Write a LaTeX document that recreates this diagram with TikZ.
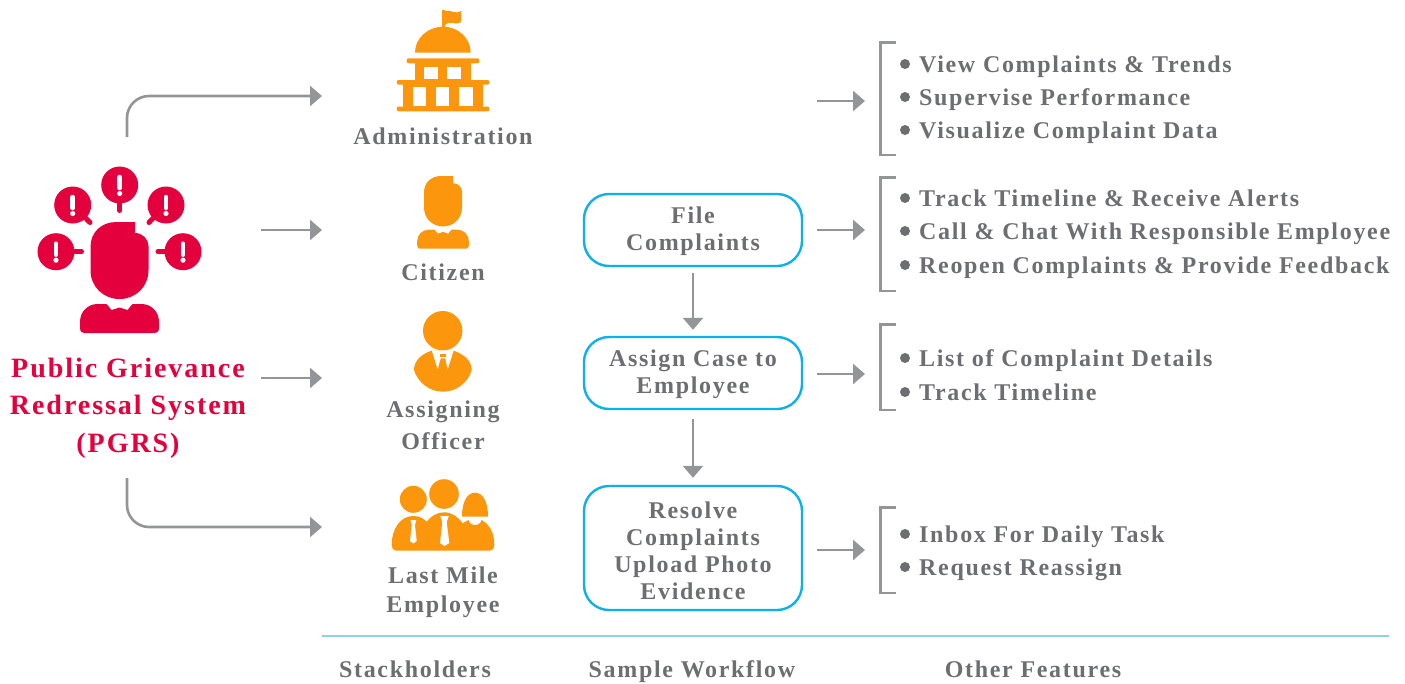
\documentclass[tikz,border=0pt]{standalone}
\usepackage{fontspec}
\setmainfont{Liberation Serif}[LetterSpace=7]
\usetikzlibrary{positioning,arrows.meta}
\definecolor{pgrsred}{HTML}{E4003C}
\definecolor{iconorange}{HTML}{FB960D}
\definecolor{textgray}{HTML}{6D6E71}
\definecolor{linegray}{HTML}{939598}
\definecolor{boxblue}{HTML}{0FB0EA}
\definecolor{rulegblue}{HTML}{8CCFEF}
\tikzset{
  heading/.style={text=textgray, font=\fontsize{24}{27}\selectfont\bfseries, align=center},
  oneline/.style={heading, anchor=base},
  feature/.style={heading, anchor=base west, inner sep=0pt},
  redtitle/.style={text=pgrsred, font=\fontsize{28}{37.5}\selectfont\bfseries, align=center},
  flowbox/.style={draw=boxblue, line width=2.4pt, rounded corners=25pt, minimum width=218pt, heading},
  flowline/.style={draw=linegray, line width=2.6pt, -{Triangle[length=12pt,width=20pt]}},
  bracketline/.style={draw=linegray, line width=2.6pt},
  person/.pic={
    \fill (15.5,0) -- (-3,0) .. controls (-18,0) and (-29,10) .. (-29,25) -- (-29,48)
      .. controls (-29,65) and (-16,77) .. (0,77) .. controls (16,77) and (29,65) .. (29,48)
      -- (29,24) .. controls (29,17) and (23,11) .. (15.5,11) -- cycle;
    \fill (-39.5,106) -- (-39.5,100) .. controls (-39.5,90) and (-32,82) .. (-22,82) -- (-13,82)
      -- (-8,88) -- (0,85.5) -- (8,88) -- (13,82) -- (22,82)
      .. controls (32,82) and (39.5,90) .. (39.5,100) -- (39.5,106)
      .. controls (39.5,110) and (37,111) .. (35,111) -- (-35,111)
      .. controls (-37,111) and (-39.5,110) .. (-39.5,106) -- cycle;
  },
}
\begin{document}
\begin{tikzpicture}[x=1pt, y=-1pt]
  \useasboundingbox (0,0) rectangle (1405,683);
  % source
  \pic[pgrsred] at (119.5,222) {person};
  \foreach \bx/\by/\tx/\ty in {119.7/185/119.7/210.5, 72.7/205/90/222.5, 166/205/149/222.5, 56/251.7/81.5/251.7, 183/251.7/158/251.7} {
    \draw[pgrsred, line width=5pt, line cap=round] (\bx,\by) -- (\tx,\ty);
    \fill[pgrsred] (\bx,\by) circle[radius=18.5];
    \draw[white, line width=4.5pt, line cap=round] (\bx,\by-8) -- (\bx,\by+3);
    \fill[white] (\bx,\by+8.5) circle[radius=2.6];
  }
  \node[redtitle] (pgrs) at (128,408) {Public Grievance\\Redressal System\\(PGRS)};
  \coordinate (pgrsup) at (127,137);
  \coordinate (pgrsrighta) at (261,230);
  \coordinate (pgrsrightb) at (261,378);
  \coordinate (pgrsdown) at (127,478);
  % administration icon
  \begin{scope}[iconorange]
    \fill (441.7,10) rectangle (445.3,28);
    \fill (445,11) .. controls (450,9) and (455,15) .. (461,11) -- (461,22)
      .. controls (455,26) and (450,20) .. (445,25) -- cycle;
    \fill (415,52.7) .. controls (415,38) and (428,26.7) .. (443,26.7)
      .. controls (458,26.7) and (470.7,38) .. (470.7,52.7) -- cycle;
    \fill[rounded corners=2pt] (406.7,58.3) rectangle (479.3,63.3);
    \fill (414.7,63) rectangle (471.3,80.5);
    \fill[rounded corners=2pt] (396.7,80) rectangle (489.3,84.7);
    \fill (402.7,84) rectangle (482.7,107);
    \fill[rounded corners=2pt] (396.7,106.5) rectangle (489.3,111.3);
    \fill[white] (424,66.7) rectangle (438,79.3);
    \fill[white] (447.3,66.7) rectangle (461.3,79.3);
    \fill[white] (412.7,86.7) rectangle (426,106);
    \fill[white] (436,86.7) rectangle (449.3,106);
    \fill[white] (459.3,86.7) rectangle (472.7,106);
  \end{scope}
  \node[oneline] (admin) at (443,144.5) {Administration};
  % citizen
  \pic[iconorange, scale=.655] at (443,176) {person};
  \node[oneline] (citizen) at (443,280) {Citizen};
  % assigning officer
  \begin{scope}[iconorange]
    \fill (442.7,330.7) circle[radius=19.7];
    \fill (431.7,350.7) .. controls (421,354) and (414,361) .. (414,370)
      .. controls (418,383) and (430,391.7) .. (443,391.7)
      .. controls (456,391.7) and (468,383) .. (471.7,370)
      .. controls (471.7,361) and (464,354) .. (453.7,350.7) -- cycle;
    \fill[white] (431.7,350.3) -- (437.7,369.3) -- (440.7,358.3) -- (445.3,358.3) -- (447.7,369.3) -- (453.7,350.3) -- cycle;
    \fill (440,353.5) rectangle (446,357.3);
  \end{scope}
  \node[heading, font=\fontsize{24}{32}\selectfont\bfseries] (officer) at (443,425.5) {Assigning\\Officer};
  % last mile employee
  \begin{scope}[iconorange]
    \fill (413.3,499.3) circle[radius=13.5];
    \fill (444,494) circle[radius=14.8];
    \fill (462,516.7) .. controls (462,502) and (467,492.7) .. (475,492.7)
      .. controls (483,492.7) and (488,502) .. (488,516.7) -- cycle;
    \fill (396,550.7) .. controls (393,550.7) and (391.7,548) .. (391.7,545)
      .. controls (391.7,528) and (401,516) .. (413,516)
      .. controls (419,516) and (423,518) .. (426.7,521.7)
      .. controls (431,516) and (437,512.3) .. (444,512.3)
      .. controls (452,512.3) and (458,517) .. (462.7,523.3)
      -- (468.5,520) .. controls (470,527) and (480,527) .. (481.5,520)
      .. controls (489,524) and (494.3,532) .. (494.3,545)
      .. controls (494.3,548) and (493,550.7) .. (490,550.7) -- cycle;
    \fill[white] (410.5,520) -- (416.3,520) -- (415,525) -- (416.7,541) -- (413.3,543.5) -- (410,541) -- (411.7,525) -- cycle;
    \fill[white] (440.3,516) -- (448.8,516) -- (446.7,522) -- (449.3,543) -- (444.5,546) -- (440,543) -- (442.3,522) -- cycle;
  \end{scope}
  \node[heading, font=\fontsize{24}{29}\selectfont\bfseries] (employee) at (443,592) {Last Mile\\Employee};
  % arrows to the stakeholders
  \coordinate (adminin) at (322,96);
  \coordinate (citizenin) at (322,230);
  \coordinate (officerin) at (322,378);
  \coordinate (employeein) at (322,527);
  \draw[flowline, rounded corners=22pt] (pgrsup) |- (adminin);
  \draw[flowline] (pgrsrighta) -- (citizenin);
  \draw[flowline] (pgrsrightb) -- (officerin);
  \draw[flowline, rounded corners=22pt] (pgrsdown) |- (employeein);
  % workflow
  \node[flowbox, minimum height=72pt] (file) at (693,230) {\rule{0pt}{19pt}File\\Complaints};
  \node[flowbox, minimum height=72pt] (assign) at (693,373) {\rule{0pt}{19pt}Assign Case to\\Employee};
  \node[flowbox, minimum height=124pt] (resolve) at (693,548) {\rule{0pt}{23pt}Resolve\\Complaints\\Upload Photo\\Evidence};
  \draw[flowline, shorten <=6pt, shorten >=6pt] (file) -- (assign);
  \draw[flowline, shorten <=9pt, shorten >=7pt] (assign) -- (resolve);
  % arrows to the features
  \coordinate (adminout) at (817,101);
  \coordinate (adminfeat) at (865,101);
  \coordinate (filefeat) at (865,230);
  \coordinate (assignfeat) at (865,374);
  \coordinate (resolvefeat) at (865,550);
  \draw[flowline] (adminout) -- (adminfeat);
  \draw[flowline, shorten <=14pt] (file.east) -- (filefeat);
  \draw[flowline, shorten <=14pt] (assign.east |- assignfeat) -- (assignfeat);
  \draw[flowline, shorten <=14pt] (resolve.east |- resolvefeat) -- (resolvefeat);
  % brackets
  \draw[bracketline] (896,42.5) -- (880.5,42.5) -- (880.5,155) -- (896,155);
  \draw[bracketline] (896,177.5) -- (880.5,177.5) -- (880.5,291) -- (896,291);
  \draw[bracketline] (896,324.5) -- (880.5,324.5) -- (880.5,410) -- (896,410);
  \draw[bracketline] (896,507.5) -- (880.5,507.5) -- (880.5,593) -- (896,593);
  % feature lists
  \foreach \y in {64,97,130,198,231,265,358,392,534,567}
    \fill[textgray] (905,\y) circle[radius=5];
  \node[feature] (viewc) at (919,72) {View Complaints \& Trends};
  \node[feature] (superv) at (919,105) {Supervise Performance};
  \node[feature] (visual) at (919,138) {Visualize Complaint Data};
  \node[feature] (track) at (919,206) {Track Timeline \& Receive Alerts};
  \node[feature] (call) at (919,239) {Call \& Chat With Responsible Employee};
  \node[feature] (reopen) at (919,273) {Reopen Complaints \& Provide Feedback};
  \node[feature] (listc) at (919,366) {List of Complaint Details};
  \node[feature] (tracktwo) at (919,400) {Track Timeline};
  \node[feature] (inbox) at (919,542) {Inbox For Daily Task};
  \node[feature] (request) at (919,575) {Request Reassign};
  % footer
  \coordinate (rulestart) at (322,636);
  \coordinate (ruleend) at (1389,636);
  \draw[rulegblue, line width=1.4pt] (rulestart) -- (ruleend);
  \node[oneline] (stack) at (415,677) {Stackholders};
  \node[oneline] (sample) at (692,677) {Sample Workflow};
  \node[oneline] (other) at (1033,677) {Other Features};
\end{tikzpicture}
\end{document}
